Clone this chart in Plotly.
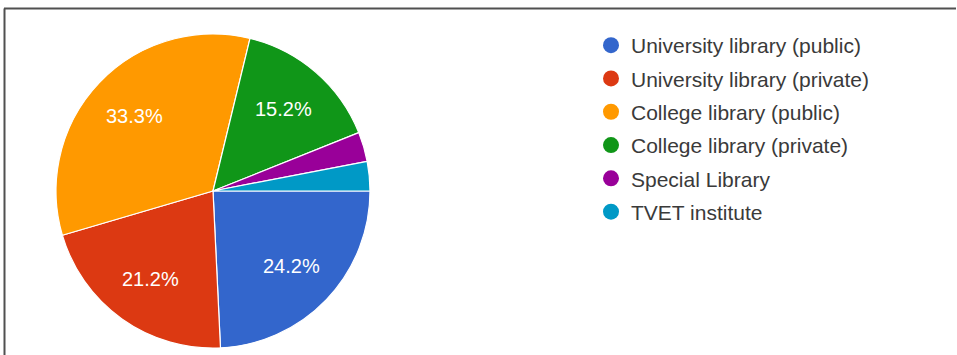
import math
import plotly.graph_objects as go

# Survey responses by library type
categories = [
    "University library (public)",
    "University library (private)",
    "College library (public)",
    "College library (private)",
    "Special Library",
    "TVET institute",
]
responses = [8, 7, 11, 5, 1, 1]
colors = ["#3366cc", "#dc3912", "#ff9900", "#109618", "#990099", "#0099c6"]

W, H = 957, 355
cx, cy, r = 213, 191, 157          # pie centre and radius in pixels
label_radius = 0.69 * r            # distance of percentage labels from centre
min_label_share = 0.05             # slices below this share stay unlabelled

fig = go.Figure()
fig.add_trace(go.Pie(
    labels=categories,
    values=responses,
    sort=False,
    direction="clockwise",
    rotation=90,
    marker=dict(colors=colors, line=dict(color="white", width=1.2)),
    textinfo="none",
    showlegend=False,
    hoverinfo="label+percent",
    domain=dict(x=[(cx - r) / W, (cx + r) / W], y=[(H - cy - r) / H, (H - cy + r) / H]),
))

# Percentage labels placed at each slice's mid-angle (clockwise from 3 o'clock)
total = sum(responses)
cum = 0
for v in responses:
    share = v / total
    theta = 2 * math.pi * (cum + v / 2) / total
    cum += v
    if share < min_label_share:
        continue
    px = cx + label_radius * math.cos(theta)
    py = cy + label_radius * math.sin(theta)
    fig.add_annotation(
        x=px / W, y=1 - py / H, xref="paper", yref="paper",
        text=f"{share * 100:.1f}%", showarrow=False,
        xanchor="center", yanchor="middle",
        font=dict(family="Liberation Sans, Arial", size=20, color="white"),
    )

# Circle-marker legend entries
for i, (name, col) in enumerate(zip(categories, colors)):
    fig.add_trace(go.Scatter(
        x=[None], y=[None], mode="markers", name=name,
        marker=dict(symbol="circle", size=18, color=col),
        legendgroup=f"g{i}", showlegend=True,
    ))

# Frame along the top and left edges
fig.add_shape(type="line", xref="paper", yref="paper",
              x0=4 / W, x1=956 / W, y0=1 - 8.5 / H, y1=1 - 8.5 / H,
              line=dict(color="#505050", width=2))
fig.add_shape(type="line", xref="paper", yref="paper",
              x0=4.5 / W, x1=4.5 / W, y0=0, y1=1 - 8.5 / H,
              line=dict(color="#505050", width=2))

fig.update_layout(
    width=W, height=H,
    margin=dict(l=0, r=0, t=0, b=0),
    paper_bgcolor="white", plot_bgcolor="white",
    xaxis=dict(visible=False), yaxis=dict(visible=False),
    legend=dict(
        x=591 / W, y=1 - 25 / H, xanchor="left", yanchor="top",
        font=dict(family="Liberation Sans, Arial", size=21, color="#3a3a3a"),
        traceorder="grouped", tracegroupgap=3, itemsizing="trace",
        bgcolor="rgba(0,0,0,0)",
    ),
)

fig.write_html("out.html")
